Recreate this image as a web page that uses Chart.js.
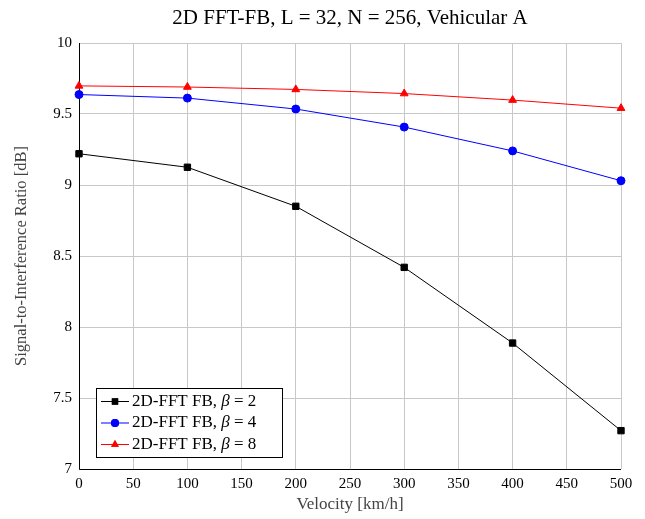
<!DOCTYPE html>
<html>
<head>
<meta charset="utf-8">
<script src="https://cdn.jsdelivr.net/npm/chart.js@4"></script>
<style>
  html, body { margin: 0; padding: 0; background: #fff; }
  #wrap { width: 645px; height: 519px; }
</style>
</head>
<body>
<div id="wrap"><canvas id="sir"></canvas></div>
<script>
// velocities and SIR values
const velocity = [0, 100, 200, 300, 400, 500];
const sirBeta2 = [9.22, 9.125, 8.85, 8.42, 7.887, 7.27];
const sirBeta4 = [9.637, 9.612, 9.535, 9.408, 9.24, 9.03];
const sirBeta8 = [9.698, 9.69, 9.673, 9.644, 9.598, 9.541];
const betaValues = ['2', '4', '8'];
const xTicks = [0, 50, 100, 150, 200, 250, 300, 350, 400, 450, 500];
const yTicks = [7, 7.5, 8, 8.5, 9, 9.5, 10];
const chartTitle = '2D FFT-FB, L = 32, N = 256, Vehicular A';

const serif = "'Liberation Serif', 'DejaVu Serif', serif";

const pts = arr => velocity.map((v, i) => ({ x: v, y: arr[i] }));

// title centred over the plot area, like pgfplots
const plotTitle = {
    id: 'plotTitle',
    afterDraw(chart) {
        const ctx = chart.ctx, a = chart.chartArea;
        ctx.save();
        ctx.fillStyle = '#000';
        ctx.font = '21px ' + serif;
        ctx.textAlign = 'center';
        ctx.textBaseline = 'middle';
        ctx.fillText(chartTitle, (a.left + a.right) / 2, 18);
        ctx.restore();
    }
};

// legend drawn inside the plot, bottom-left
const insideLegend = {
    id: 'insideLegend',
    afterDraw(chart) {
        const ctx = chart.ctx;
        const area = chart.chartArea;
        const x0 = area.left + 17, y0 = area.bottom - 81;
        const w = 186, h = 69;
        ctx.save();
        ctx.fillStyle = '#fff';
        ctx.fillRect(x0, y0, w, h);
        ctx.strokeStyle = '#000';
        ctx.lineWidth = 1;
        ctx.strokeRect(x0 + 0.5, y0 + 0.5, w, h);
        chart.data.datasets.forEach((ds, i) => {
            const cy = y0 + 13.5 + i * 21.5;
            ctx.strokeStyle = ds.borderColor;
            ctx.beginPath();
            ctx.moveTo(x0 + 5, cy);
            ctx.lineTo(x0 + 33, cy);
            ctx.stroke();
            ctx.fillStyle = ds.borderColor;
            Chart.helpers.drawPoint(ctx, {
                pointStyle: ds.pointStyle,
                radius: ds.pointRadius,
                borderWidth: 0
            }, x0 + 19, cy);
            ctx.fill();
            ctx.fillStyle = '#000';
            ctx.textBaseline = 'middle';
            ctx.font = '17px ' + serif;
            let tx = x0 + 36;
            const pre = '2D-FFT FB, ';
            ctx.fillText(pre, tx, cy);
            tx += ctx.measureText(pre).width;
            ctx.font = 'italic 17px ' + serif;
            ctx.fillText('β', tx, cy);
            tx += ctx.measureText('β').width;
            ctx.font = '17px ' + serif;
            ctx.fillText(' = ' + betaValues[i], tx, cy);
        });
        ctx.restore();
    }
};

// black left/bottom axis lines over the grid
const axisLines = {
    id: 'axisLines',
    beforeDatasetsDraw(chart) {
        const ctx = chart.ctx, a = chart.chartArea;
        ctx.save();
        ctx.strokeStyle = '#000';
        ctx.lineWidth = 1;
        ctx.beginPath();
        ctx.moveTo(a.left + 0.5, a.top);
        ctx.lineTo(a.left + 0.5, a.bottom + 0.5);
        ctx.lineTo(a.right, a.bottom + 0.5);
        ctx.stroke();
        ctx.restore();
    }
};

new Chart(document.getElementById('sir'), {
    type: 'line',
    data: {
        datasets: [
            { label: 'β = 2', data: pts(sirBeta2), borderColor: '#000', backgroundColor: '#000',
              pointStyle: 'rect', pointRadius: 4.5, borderWidth: 1, tension: 0 },
            { label: 'β = 4', data: pts(sirBeta4), borderColor: '#0000ff', backgroundColor: '#0000ff',
              pointStyle: 'circle', pointRadius: 4, borderWidth: 1, tension: 0 },
            { label: 'β = 8', data: pts(sirBeta8), borderColor: '#ff0000', backgroundColor: '#ff0000',
              pointStyle: 'triangle', pointRadius: 4.5, borderWidth: 1, tension: 0 }
        ]
    },
    options: {
        responsive: true,
        maintainAspectRatio: false,
        animation: false,
        clip: false,
        layout: { padding: { left: 0, right: 24, top: 43, bottom: 0 } },
        elements: { point: { borderWidth: 0 } },
        plugins: {
            legend: { display: false },
            tooltip: { enabled: false },
            title: { display: false }
        },
        scales: {
            x: {
                type: 'linear',
                min: 0, max: 500,
                afterBuildTicks: s => { s.ticks = xTicks.map(v => ({ value: v })); },
                afterFit: s => { s.height = 50; },
                grid: { color: '#c8c8c8', drawTicks: false },
                border: { display: false },
                ticks: { color: '#000', padding: 6, maxRotation: 0, font: { family: serif, size: 15 } },
                title: { display: true, text: 'Velocity [km/h]', color: '#444',
                         font: { family: serif, size: 17 }, padding: { top: 5 } }
            },
            y: {
                min: 7, max: 10,
                afterBuildTicks: s => { s.ticks = yTicks.map(v => ({ value: v })); },
                afterFit: s => { s.width = 79; },
                grid: { color: '#c8c8c8', drawTicks: false },
                border: { display: false },
                ticks: { color: '#000', padding: 7, font: { family: serif, size: 15 },
                         callback: v => String(v) },
                title: { display: true, text: 'Signal-to-Interference Ratio [dB]', color: '#444',
                         font: { family: serif, size: 16.5 }, padding: { top: 12, bottom: 0 } }
            }
        }
    },
    plugins: [axisLines, plotTitle, insideLegend]
});
</script>
</body>
</html>
